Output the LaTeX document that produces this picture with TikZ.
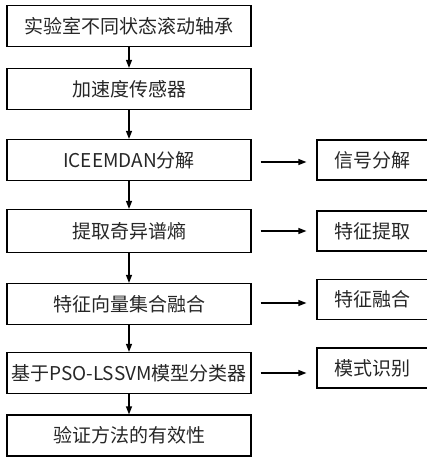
\documentclass[tikz,border=0pt]{standalone}
\usepackage{fontspec}
\setmainfont{Noto Sans CJK SC}
\usetikzlibrary{arrows.meta}
\begin{document}
\begin{tikzpicture}[x=1pt,y=-1pt,
  lbox/.style={draw=black, line width=1.2pt, minimum width=244pt, minimum height=41pt, inner sep=0pt, font=\fontsize{19}{21}\selectfont, text=black!85},
  rbox/.style={draw=black, line width=1.2pt, minimum width=120pt, minimum height=40pt, inner sep=0pt, font=\fontsize{19}{21}\selectfont, text=black!85},
  arr/.style={line width=1.2pt, -{Triangle[length=8pt,width=6pt]}}]
\useasboundingbox (0,0) rectangle (427,458);
\node[lbox] (b1) at (129,26) {实验室不同状态滚动轴承};
\node[lbox] (b2) at (129,89) {加速度传感器};
\node[lbox] (b3) at (129,160) {ICEEMDAN分解};
\node[lbox, minimum height=43pt] (b4) at (129,231) {提取奇异谱熵};
\node[lbox] (b5) at (129,304) {特征向量集合融合};
\node[lbox] (b6) at (129,373) {基于PSO-LSSVM模型分类器};
\node[lbox] (b7) at (129,435.5) {验证方法的有效性};
\node[rbox] (r1) at (377,160) {\hspace*{-9pt}信号分解};
\node[rbox] (r2) at (377,231) {\hspace*{-9pt}特征提取};
\node[rbox] (r3) at (377,299.5) {\hspace*{-9pt}特征融合};
\node[rbox] (r4) at (377,368) {\hspace*{-9pt}模式识别};
\draw[arr] (b1) -- (b2);
\draw[arr] (b2) -- (b3);
\draw[arr] (b3) -- (b4);
\draw[arr] (b4) -- (b5);
\draw[arr] (b5) -- (b6);
\draw[arr] (b6) -- (b7);
\coordinate (s1) at ([xshift=9pt,yshift=-2pt]b3.east);
\coordinate (s2) at ([xshift=9pt]b4.east);
\coordinate (s3) at ([xshift=9pt,yshift=1pt]b5.east);
\coordinate (s4) at ([xshift=9pt]b6.east);
\coordinate (e1) at (s1 -| r1.west);
\coordinate (e2) at (s2 -| r2.west);
\coordinate (e3) at (s3 -| r3.west);
\coordinate (e4) at (s4 -| r4.west);
\draw[arr] (s1) -- ([xshift=-10pt]e1);
\draw[arr] (s2) -- ([xshift=-10pt]e2);
\draw[arr] (s3) -- ([xshift=-10pt]e3);
\draw[arr] (s4) -- ([xshift=-10pt]e4);
\end{tikzpicture}
\end{document}
